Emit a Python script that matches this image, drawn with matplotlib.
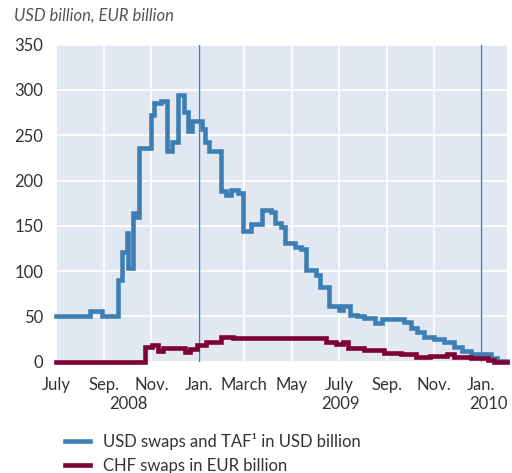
import matplotlib.pyplot as plt
import matplotlib.transforms as mtransforms
import pandas as pd

plt.rcParams['font.family'] = ['Lato', 'DejaVu Sans']

# USD swaps and TAF (USD billion), step values from the given date on
usd_dates = ['2008-07-01', '2008-08-14', '2008-08-29', '2008-09-19', '2008-09-24',
             '2008-09-30', '2008-10-02', '2008-10-09', '2008-10-13', '2008-10-16',
             '2008-10-31', '2008-11-04', '2008-11-13', '2008-11-21', '2008-11-28',
             '2008-12-05', '2008-12-13', '2008-12-18', '2008-12-24', '2009-01-05',
             '2009-01-09', '2009-01-15', '2009-01-30', '2009-02-06', '2009-02-12',
             '2009-02-21', '2009-02-27', '2009-03-10', '2009-03-24', '2009-04-04',
             '2009-04-10', '2009-04-17', '2009-04-22', '2009-05-06', '2009-05-13',
             '2009-05-20', '2009-06-01', '2009-06-07', '2009-06-18', '2009-07-01',
             '2009-07-07', '2009-07-15', '2009-07-25', '2009-08-02', '2009-08-17',
             '2009-08-26', '2009-09-23', '2009-10-02', '2009-10-10', '2009-10-19',
             '2009-11-01', '2009-11-14', '2009-11-27', '2009-12-07', '2009-12-18',
             '2009-12-31', '2010-01-13', '2010-01-21', '2010-02-03']
usd_values = [50, 56, 50, 90, 121,
              142, 103, 164, 160, 236,
              272, 286, 288, 233, 243,
              294, 276, 255, 266, 257,
              243, 233, 188, 184, 190,
              186, 144, 152, 167, 165,
              153, 149, 131, 127, 124,
              101, 96, 83, 61, 57,
              61, 52, 50, 48, 43,
              47, 44, 37, 33, 27,
              25, 22, 16, 12, 9,
              8, 4, 1, 1]

# CHF swaps (EUR billion)
chf_dates = ['2008-07-01', '2008-10-24', '2008-11-02', '2008-11-09', '2008-11-16',
             '2008-12-14', '2008-12-21', '2008-12-30', '2009-01-10', '2009-01-30',
             '2009-02-15', '2009-06-14', '2009-06-27', '2009-07-06', '2009-07-13',
             '2009-08-02', '2009-08-28', '2009-09-19', '2009-10-09', '2009-10-27',
             '2009-11-18', '2009-11-26', '2009-12-18', '2010-01-09', '2010-01-17',
             '2010-02-03']
chf_values = [0, 16, 18, 12, 15,
              11, 14, 18, 22, 27,
              26, 22, 20, 22, 15,
              13, 10, 8.5, 5, 6,
              8, 5, 4, 2, 0,
              0]

month_ticks = ['2008-07-01', '2008-09-01', '2008-11-01', '2009-01-01', '2009-03-01',
               '2009-05-01', '2009-07-01', '2009-09-01', '2009-11-01', '2010-01-01']
month_labels = ['July', 'Sep.', 'Nov.', 'Jan.', 'March', 'May', 'July', 'Sep.', 'Nov.', 'Jan.']
year_pos = ['2008-10-02', '2009-07-03', '2010-01-10']
year_labels = ['2008', '2009', '2010']

blue = '#3d7fb4'
red = '#7d0036'

fig = plt.figure(figsize=(5.12, 4.73), dpi=100)
ax = fig.add_axes([56 / 512, (473 - 361.7) / 473, (507 - 56) / 512, (361.7 - 44.7) / 473])
ax.set_facecolor('#e2e8f2')

ax.plot(pd.to_datetime(usd_dates), usd_values, drawstyle='steps-post', color=blue,
        lw=3.3, solid_joinstyle='miter', clip_on=False, zorder=4,
        label='USD swaps and TAF\u00b9 in USD billion')
ax.plot(pd.to_datetime(chf_dates), chf_values, drawstyle='steps-post', color=red,
        lw=3.3, solid_joinstyle='miter', clip_on=False, zorder=5,
        label='CHF swaps in EUR billion')

for d in ['2009-01-01', '2010-01-01']:
    ax.axvline(pd.Timestamp(d), color='#3a80c2', lw=1.0, zorder=3)

ax.set_xlim(pd.Timestamp('2008-07-01'), pd.Timestamp('2010-02-03'))
ax.set_ylim(0, 350)
ax.set_yticks(range(0, 351, 50))
ax.set_xticks(pd.to_datetime(month_ticks))
ax.set_xticklabels(month_labels)
ax.grid(True, color='white', lw=1.3, zorder=1)
ax.set_axisbelow(True)
ax.tick_params(length=0, labelsize=12, colors='#333333')
ax.tick_params(axis='x', pad=11)
ax.tick_params(axis='y', pad=9)
for s in ax.spines.values():
    s.set_visible(False)

trans = mtransforms.blended_transform_factory(ax.transData, ax.transAxes)
for p, lab in zip(year_pos, year_labels):
    ax.text(pd.Timestamp(p), -0.135, lab, transform=trans, ha='center', va='center',
            fontsize=12, color='#333333')

fig.text(14 / 512, 1 - 16 / 473, 'USD billion, EUR billion', style='italic',
         fontsize=12, color='#555555', va='center', ha='left')

fig.legend(loc='upper left', bbox_to_anchor=(50 / 512, 1 - 418 / 473), frameon=False,
           fontsize=12, handlelength=1.5, handletextpad=0.8, labelspacing=0.45,
           labelcolor='#333333')

fig.savefig('out.png', dpi=100)
